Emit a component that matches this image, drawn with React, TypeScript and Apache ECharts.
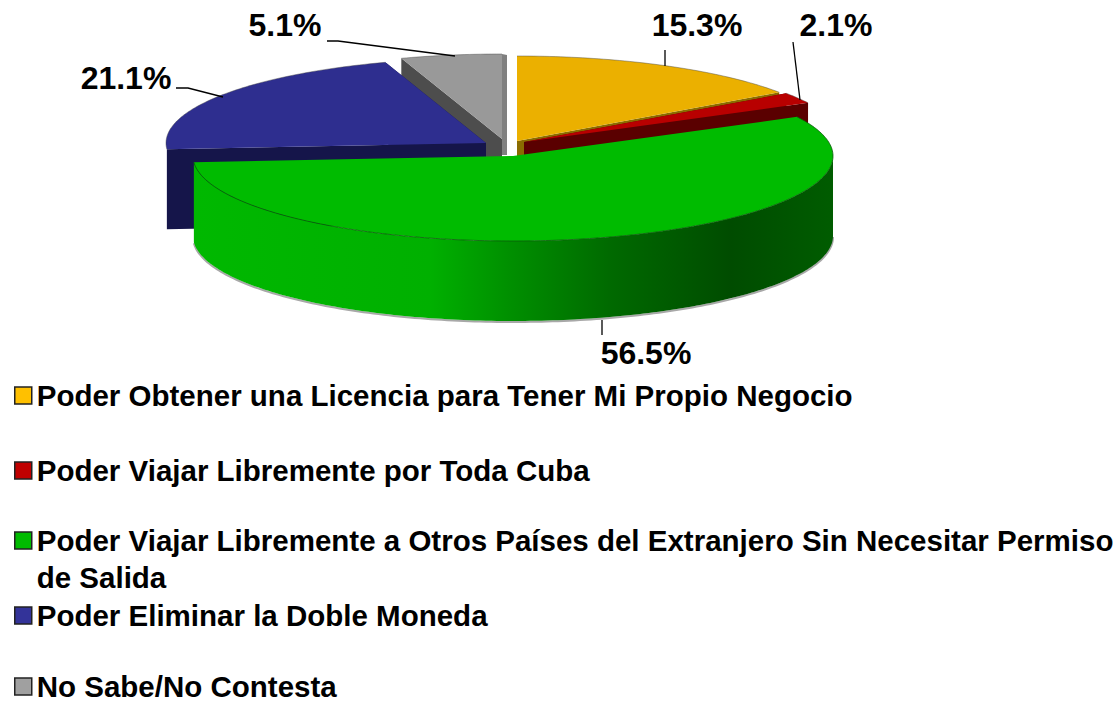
import React, { useEffect, useRef } from "react";
import * as echarts from "echarts";

const categories = [
  "Poder Obtener una Licencia para Tener Mi Propio Negocio",
  "Poder Viajar Libremente por Toda Cuba",
  "Poder Viajar Libremente a Otros Países del Extranjero Sin Necesitar Permiso de Salida",
  "Poder Eliminar la Doble Moneda",
  "No Sabe/No Contesta",
];
const values = [15.3, 2.1, 56.5, 21.1, 5.1];
const legendColors = ["#ffc000", "#c00000", "#00bb00", "#333399", "#a0a0a0"];

const FONT = '"Liberation Sans", Arial, sans-serif';
const RX = 320;
const RY = 85;
const DEPTH = 80;

// Presentation of each slice, in the same order as the categories.
const looks = [
  { cx: 517, cy: 141, top: "#ebb000", wall: "#8a6c00", label: [697, 25], leader: [[665, 50], [665, 66]] },
  { cx: 524, cy: 142, top: "#b80000", wall: "#5a0000", label: [836, 25], leader: [[793, 42], [800, 100]] },
  { cx: 513, cy: 156, top: "#00bb00", wall: "", label: [646, 353], leader: [[602, 320], [602, 335]] },
  { cx: 486, cy: 143, top: "#2e2e8f", wall: "#15154a", label: [126, 78], leader: [[176, 88], [188, 88], [223, 97]] },
  { cx: 502, cy: 139, top: "#999999", wall: "#4d4d4d", label: [285, 25], leader: [[327, 41], [338, 41], [455, 56]] },
];
const paintOrder = [4, 0, 1, 3, 2];
const legendTops = [377, 452, 485, 597, 668];

const total = values.reduce((a, b) => a + b, 0);
const angles = values.reduce<number[]>((acc, v) => [...acc, acc[acc.length - 1] + (v / total) * 360], [0]);

const rim = (cx: number, cy: number, deg: number, drop = 0): number[] => {
  const t = (deg * Math.PI) / 180;
  return [cx + RX * Math.sin(t), cy - RY * Math.cos(t) + drop];
};
const arc = (cx: number, cy: number, a: number, b: number, drop = 0): number[][] => {
  const pts: number[][] = [];
  const n = Math.max(2, Math.ceil(Math.abs(b - a)));
  for (let i = 0; i <= n; i++) pts.push(rim(cx, cy, a + ((b - a) * i) / n, drop));
  return pts;
};

const sliceGroup = (i: number) => {
  const k = looks[i];
  const a = angles[i];
  const b = angles[i + 1];
  const { cx, cy } = k;
  const hasFront = !k.wall;
  const children: any[] = [];
  if (k.wall) {
    [a, b].forEach((d) => {
      const p = rim(cx, cy, d);
      children.push({
        type: "polygon",
        shape: { points: [[cx, cy], p, [p[0], p[1] + DEPTH], [cx, cy + DEPTH]] },
        style: { fill: k.wall },
      });
    });
  }
  if (hasFront) {
    const from = Math.max(a, 90);
    const to = Math.min(b, 270);
    const front = arc(cx, cy, from, to);
    const back = arc(cx, cy, to, from, DEPTH);
    children.push({
      type: "polyline",
      shape: { points: arc(cx, cy, from, to, DEPTH + 1) },
      style: { fill: "none", stroke: "#a8a8a8", lineWidth: 2 },
    });
    children.push({
      type: "polygon",
      shape: { points: [...front, ...back] },
      style: {
        fill: new echarts.graphic.LinearGradient(0, 0, 1, 0, [
          { offset: 0, color: "#00b800" },
          { offset: 0.37, color: "#00b000" },
          { offset: 0.495, color: "#008f00" },
          { offset: 0.65, color: "#006a00" },
          { offset: 0.84, color: "#004c00" },
          { offset: 1, color: "#005c00" },
        ]),
      },
    });
  }
  children.push({
    type: "polygon",
    shape: { points: [[cx, cy], ...arc(cx, cy, a, b)] },
    style: { fill: k.top },
  });
  children.push({
    type: "polyline",
    shape: { points: arc(cx, cy, a, b) },
    style: { fill: "none", stroke: hasFront ? "#0a5a0a" : "rgba(70,70,70,0.55)", lineWidth: 0.8 },
  });
  if (b >= 359.9) {
    // thin lit edge of the slice that closes the circle
    children.push({
      type: "polygon",
      shape: { points: [[cx, cy - RY], [cx + 5, cy - RY + 1], [cx + 5, cy + 16], [cx, cy + 16]] },
      style: { fill: "#808080" },
    });
  }
  children.push({
    type: "polyline",
    shape: { points: k.leader },
    style: { fill: "none", stroke: "#000", lineWidth: 1.3 },
  });
  children.push({
    type: "text",
    style: {
      text: values[i].toFixed(1) + "%",
      x: k.label[0],
      y: k.label[1],
      align: "center",
      verticalAlign: "middle",
      font: `bold 32px ${FONT}`,
      fill: "#000",
    },
  });
  return { type: "group", children };
};

// The long name wraps; the blank first line keeps its marker beside the first printed line.
const wrapped = (name: string) =>
  name.includes("Permiso de Salida") ? "\n" + name.replace("Permiso de Salida", "Permiso\nde Salida") : name;

export default function App() {
  const ref = useRef<HTMLDivElement>(null);
  useEffect(() => {
    document.body.style.margin = "0";
    const chart = echarts.init(ref.current!, null, { renderer: "svg" });
    chart.setOption({
      animation: false,
      backgroundColor: "#ffffff",
      legend: categories.map((name, i) => ({
        show: true,
        left: 14,
        top: legendTops[i],
        orient: "vertical",
        selectedMode: false,
        itemWidth: 17,
        itemHeight: 17,
        padding: 0,
        data: [{ name, icon: "rect", itemStyle: { color: legendColors[i], borderColor: "#222222", borderWidth: 1.5 } }],
        formatter: wrapped,
        textStyle: {
          fontFamily: FONT,
          fontWeight: "bold",
          fontSize: 29.5,
          lineHeight: 37,
          color: "#000",
        },
      })),
      series: paintOrder.map((i) => ({
        type: "custom",
        name: categories[i],
        coordinateSystem: "none",
        silent: true,
        itemStyle: { color: legendColors[i] },
        data: [[values[i]]],
        renderItem: () => sliceGroup(i),
      })),
    });
    return () => chart.dispose();
  }, []);
  return <div ref={ref} style={{ width: 1119, height: 702 }} />;
}
